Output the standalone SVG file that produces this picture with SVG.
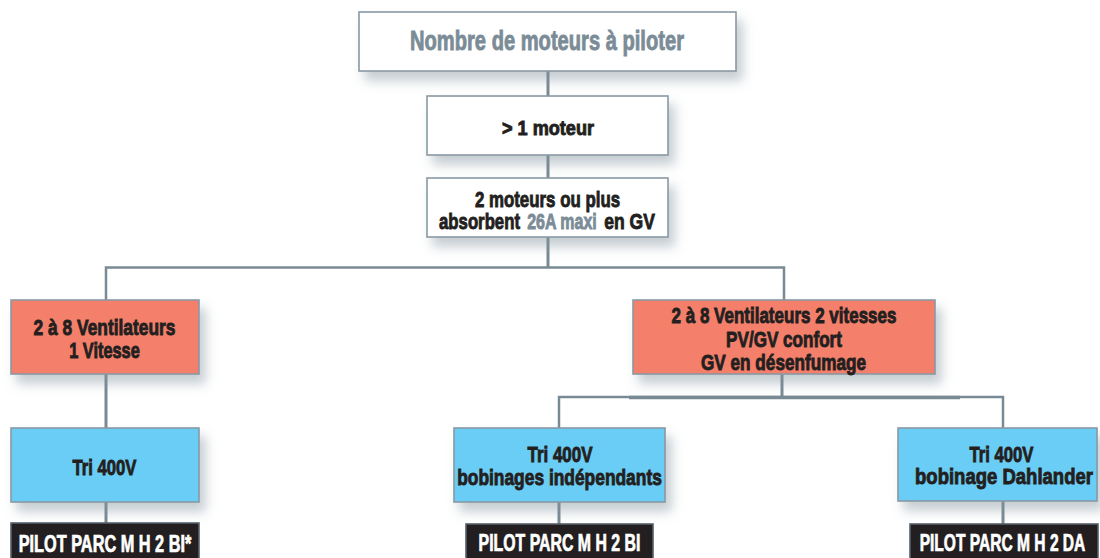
<svg xmlns="http://www.w3.org/2000/svg" width="1100" height="558" viewBox="0 0 1100 558">
<style>
.box{stroke:#8a99a4;stroke-width:1.6}
.w{fill:#ffffff}
.r{fill:#f47f6b}
.b{fill:#6bcdf5}
.k{fill:#231f20;stroke:#55606a}
text{font-family:"Liberation Sans",Arial,sans-serif;font-weight:bold;text-anchor:middle;fill:#231f20;stroke:#231f20;stroke-width:0.9;font-size:22.5px}
.g{fill:#7b8c97;stroke:#7b8c97}
.wt{fill:#ffffff;stroke:#ffffff;font-size:23px;stroke-width:0.7}
.c{stroke:#7a8a95;fill:none}
</style>
<defs>
<filter id="sh" x="-20%" y="-30%" width="150%" height="180%">
<feDropShadow dx="6" dy="9" stdDeviation="6" flood-color="#7f8f9c" flood-opacity="0.45"/>
</filter>
</defs>
<rect width="1100" height="558" fill="#ffffff"/>
<g id="connectors">
<path class="c" stroke-width="3" d="M548 71V96M548 155V178M548 237V267"/>
<path class="c" stroke-width="2.5" d="M106 300V267.5H784V300"/>
<path class="c" stroke-width="3" d="M106 374V428M106 502V523"/>
<path class="c" stroke-width="3" d="M782 374V397"/>
<path class="c" stroke-width="2.5" d="M559 428V397H1003V428"/>
<path class="c" stroke-width="3.5" d="M629 397.5H960"/>
<path class="c" stroke-width="3" d="M559 502V524M1003 501V524"/>
</g>
<g id="n1"><rect class="box w" x="359" y="12" width="377" height="59" filter="url(#sh)"/>
<text class="g" transform="matrix(0.719 0 0 1 547 50)" style="font-size:28px">Nombre de moteurs à piloter</text></g>
<g id="n2"><rect class="box w" x="427" y="96" width="241" height="59" filter="url(#sh)"/>
<text transform="matrix(0.905 0 0 1 548 135)" style="font-size:20px">&gt; 1 moteur</text></g>
<g id="n3"><rect class="box w" x="427" y="178" width="241" height="59" filter="url(#sh)"/>
<text transform="matrix(0.75 0 0 1 547.5 207)">2 moteurs ou plus</text>
<text transform="matrix(0.745 0 0 1 479.5 229)">absorbent</text>
<text class="g" transform="matrix(0.71 0 0 1 562 229)">26A maxi</text>
<text transform="matrix(0.78 0 0 1 629.5 229)">en GV</text></g>
<g id="n4"><rect class="box r" x="11" y="300" width="188" height="74" filter="url(#sh)"/>
<text transform="matrix(0.772 0 0 1 104.5 335)">2 à 8 Ventilateurs</text>
<text transform="matrix(0.727 0 0 1 104.5 358)">1 Vitesse</text></g>
<g id="n5"><rect class="box r" x="633" y="300" width="302" height="74" filter="url(#sh)"/>
<text transform="matrix(0.756 0 0 1 784 323)">2 à 8 Ventilateurs 2 vitesses</text>
<text transform="matrix(0.76 0 0 1 784 347)">PV/GV confort</text>
<text transform="matrix(0.763 0 0 1 783.5 370)">GV en désenfumage</text></g>
<g id="n6"><rect class="box b" x="11" y="428" width="188" height="74" filter="url(#sh)"/>
<text transform="matrix(0.742 0 0 1 104.5 475)">Tri 400V</text></g>
<g id="n7"><rect class="box b" x="454" y="428" width="211" height="74" filter="url(#sh)"/>
<text transform="matrix(0.754 0 0 1 560 462)">Tri 400V</text>
<text transform="matrix(0.773 0 0 1 559.5 485)">bobinages indépendants</text></g>
<g id="n8"><rect class="box b" x="898" y="428" width="199" height="73" filter="url(#sh)"/>
<text transform="matrix(0.742 0 0 1 1001.5 462)">Tri 400V</text>
<text transform="matrix(0.823 0 0 1 1004 484)">bobinage Dahlander</text></g>
<g id="n9"><rect class="box k" x="11" y="523" width="188" height="45"/>
<text class="wt" transform="matrix(0.709 0 0 1 105 552)">PILOT PARC M H 2 BI*</text></g>
<g id="n10"><rect class="box k" x="466" y="524" width="187" height="45"/>
<text class="wt" transform="matrix(0.69 0 0 1 559.5 551)">PILOT PARC M H 2 BI</text></g>
<g id="n11"><rect class="box k" x="910" y="524" width="188" height="45"/>
<text class="wt" transform="matrix(0.677 0 0 1 1002.5 551)">PILOT PARC M H 2 DA</text></g>
</svg>
